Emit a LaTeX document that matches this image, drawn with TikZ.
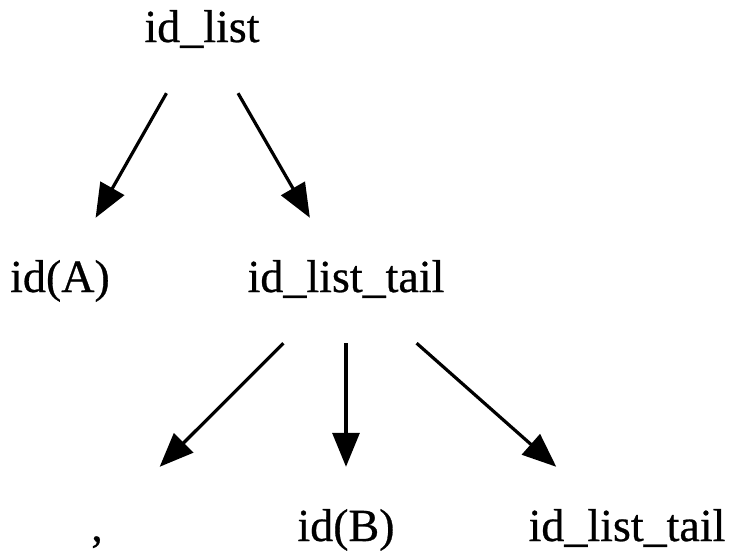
\documentclass[tikz,border=0pt]{standalone}
\usepackage{fontspec}
\setmainfont{Liberation Serif}[FakeBold=0.6]
\usetikzlibrary{arrows.meta}
\begin{document}
\begin{tikzpicture}[x=1pt,y=1pt,
  tok/.style={rectangle, inner sep=0pt, minimum height=125pt, minimum width=187pt,
    font=\fontsize{46}{55}\selectfont, text height=32pt, text depth=9pt},
  edge/.style={line width=3.2pt, -{Triangle[length=34pt,width=27pt]}}]
  \useasboundingbox (0,0) rectangle (732,-550);
  % parse tree nodes
  \node[tok] (root)  at (202,-30.5)  {id\_list};
  \node[tok] (ida)   at (60,-280.5)  {id(A)};
  \node[tok] (tail1) at (346,-280.5) {id\_list\_tail};
  \node[tok] (comma) at (97,-529.5)  {,};
  \node[tok] (idb)   at (346,-529.5) {id(B)};
  \node[tok] (tail2) at (627,-529.5) {id\_list\_tail};
  % derivation edges
  \draw[edge] (root)  -- (ida);
  \draw[edge] (root)  -- (tail1);
  \draw[edge] (tail1) -- (comma);
  \draw[edge] (tail1) -- (idb);
  \draw[edge] (tail1) -- (tail2);
\end{tikzpicture}
\end{document}
